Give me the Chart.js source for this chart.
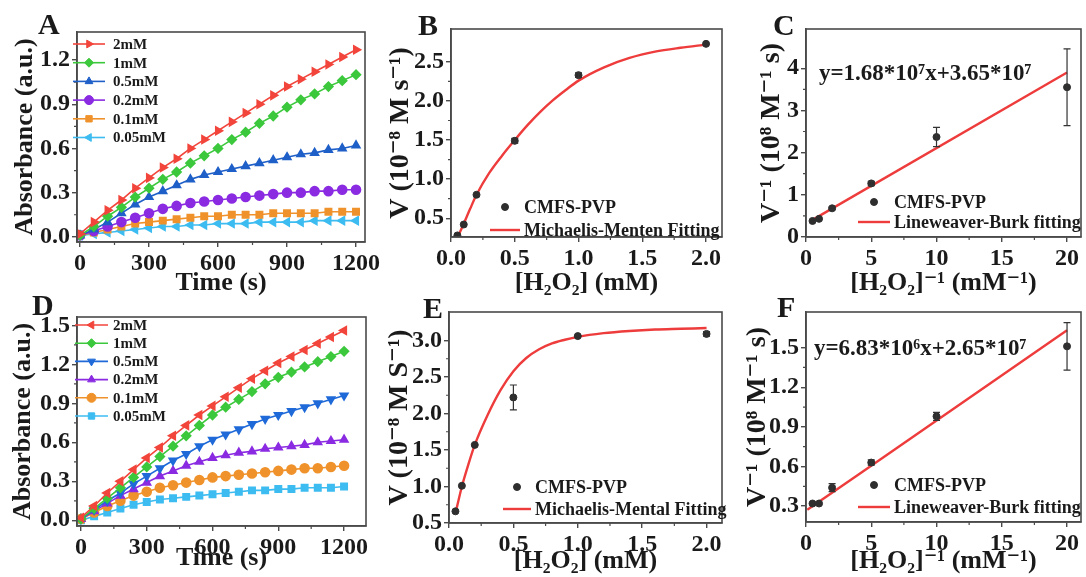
<!DOCTYPE html>
<html>
<head>
<meta charset="utf-8">
<script src="https://cdn.jsdelivr.net/npm/chart.js@4.4.1/dist/chart.umd.min.js"></script>
<style>
  html, body { margin: 0; padding: 0; background: #fff; }
  #wrap { position: relative; width: 1086px; height: 577px; overflow: hidden; }
  #wrap canvas { position: absolute; left: 0; top: 0; }
</style>
</head>
<body>
<div id="wrap">
  <canvas id="pA" width="1086" height="577"></canvas>
  <canvas id="pB" width="1086" height="577"></canvas>
  <canvas id="pC" width="1086" height="577"></canvas>
  <canvas id="pD" width="1086" height="577"></canvas>
  <canvas id="pE" width="1086" height="577"></canvas>
  <canvas id="pF" width="1086" height="577"></canvas>
</div>
<script>
// ---- data ----
const timeS = [0, 60, 120, 180, 240, 300, 360, 420, 480, 540, 600, 660, 720, 780, 840, 900, 960, 1020, 1080, 1140, 1200];
const concLabels = ['2mM', '1mM', '0.5mM', '0.2mM', '0.1mM', '0.05mM'];

// absorbance, first material (A)
const a2mM   = [0.02, 0.10, 0.18, 0.25, 0.33, 0.40, 0.47, 0.53, 0.60, 0.66, 0.72, 0.78, 0.84, 0.90, 0.96, 1.02, 1.07, 1.12, 1.17, 1.22, 1.27];
const a1mM   = [0.01, 0.07, 0.14, 0.20, 0.27, 0.33, 0.39, 0.44, 0.50, 0.55, 0.60, 0.66, 0.71, 0.77, 0.82, 0.88, 0.93, 0.97, 1.02, 1.06, 1.10];
const a05mM  = [0.01, 0.05, 0.10, 0.16, 0.22, 0.27, 0.31, 0.35, 0.39, 0.42, 0.44, 0.46, 0.48, 0.50, 0.52, 0.54, 0.56, 0.57, 0.59, 0.60, 0.62];
const a02mM  = [0.01, 0.04, 0.07, 0.10, 0.13, 0.16, 0.19, 0.21, 0.23, 0.24, 0.25, 0.26, 0.27, 0.28, 0.29, 0.30, 0.30, 0.31, 0.31, 0.32, 0.32];
const a01mM  = [0.01, 0.03, 0.05, 0.07, 0.09, 0.10, 0.11, 0.12, 0.13, 0.14, 0.14, 0.15, 0.15, 0.15, 0.16, 0.16, 0.16, 0.16, 0.17, 0.17, 0.17];
const a005mM = [0.01, 0.02, 0.03, 0.04, 0.05, 0.06, 0.07, 0.07, 0.08, 0.08, 0.09, 0.09, 0.09, 0.10, 0.10, 0.10, 0.10, 0.11, 0.11, 0.11, 0.11];

// absorbance, second material (D)
const d2mM   = [0.02, 0.11, 0.21, 0.30, 0.39, 0.48, 0.56, 0.65, 0.73, 0.81, 0.88, 0.95, 1.02, 1.09, 1.15, 1.21, 1.26, 1.31, 1.36, 1.41, 1.46];
const d1mM   = [0.01, 0.09, 0.17, 0.25, 0.33, 0.41, 0.49, 0.57, 0.65, 0.73, 0.81, 0.87, 0.93, 0.99, 1.05, 1.10, 1.14, 1.18, 1.22, 1.26, 1.30];
const d05mM  = [0.01, 0.08, 0.15, 0.21, 0.28, 0.34, 0.40, 0.46, 0.51, 0.57, 0.62, 0.66, 0.70, 0.74, 0.78, 0.81, 0.84, 0.87, 0.90, 0.93, 0.96];
const d02mM  = [0.01, 0.07, 0.13, 0.19, 0.24, 0.29, 0.34, 0.38, 0.42, 0.45, 0.48, 0.50, 0.52, 0.53, 0.55, 0.56, 0.57, 0.58, 0.60, 0.61, 0.62];
const d01mM  = [0.01, 0.06, 0.11, 0.15, 0.19, 0.22, 0.25, 0.27, 0.29, 0.31, 0.33, 0.34, 0.35, 0.36, 0.37, 0.38, 0.39, 0.40, 0.40, 0.41, 0.42];
const d005mM = [0.00, 0.03, 0.06, 0.09, 0.12, 0.14, 0.16, 0.17, 0.18, 0.19, 0.20, 0.21, 0.22, 0.23, 0.23, 0.24, 0.24, 0.25, 0.25, 0.25, 0.26];

// Michaelis-Menten (B)
const concB = [0.05, 0.1, 0.2, 0.5, 1.0, 2.0];
const rateB = [0.28, 0.42, 0.80, 1.49, 2.33, 2.73];
const rateErrB = [0, 0, 0, 0.03, 0.03, 0];
const fitConcB = [0.05, 0.1, 0.15, 0.2, 0.3, 0.4, 0.5, 0.6, 0.7, 0.8, 0.9, 1.0, 1.2, 1.4, 1.6, 1.8, 2.0];
const fitRateB = [0.25, 0.43, 0.62, 0.80, 1.08, 1.30, 1.50, 1.69, 1.86, 2.01, 2.14, 2.26, 2.43, 2.55, 2.63, 2.68, 2.72];

// Lineweaver-Burk (C)
const invConcC = [0.5, 1, 2, 5, 10, 20];
const invRateC = [0.38, 0.43, 0.68, 1.27, 2.37, 3.55];
const invRateErrC = [0, 0, 0.03, 0.05, 0.23, 0.91];
const fitXC = [0.3, 20];
const fitYC = [0.37, 3.90];

// Michaelis-Menten (E)
const concE = [0.05, 0.1, 0.2, 0.5, 1.0, 2.0];
const rateE = [0.66, 1.01, 1.57, 2.22, 3.06, 3.09];
const rateErrE = [0, 0, 0, 0.17, 0, 0.03];
const fitConcE = [0.05, 0.1, 0.15, 0.2, 0.3, 0.4, 0.5, 0.6, 0.7, 0.8, 0.9, 1.0, 1.2, 1.4, 1.6, 1.8, 2.0];
const fitRateE = [0.63, 1.00, 1.30, 1.57, 1.98, 2.32, 2.58, 2.76, 2.88, 2.96, 3.01, 3.05, 3.10, 3.13, 3.15, 3.16, 3.17];

// Lineweaver-Burk (F)
const invConcF = [0.5, 1, 2, 5, 10, 20];
const invRateF = [0.32, 0.32, 0.44, 0.63, 0.98, 1.51];
const invRateErrF = [0, 0, 0.03, 0.02, 0.03, 0.18];
const fitXF = [0.1, 20];
const fitYF = [0.272, 1.631];

// tick positions
const timeTicks = [0, 300, 600, 900, 1200];
const absTicksA = [0, 0.3, 0.6, 0.9, 1.2];
const absTicksD = [0, 0.3, 0.6, 0.9, 1.2, 1.5];
const concTicks = [0, 0.5, 1.0, 1.5, 2.0];
const rateTicksB = [0.5, 1.0, 1.5, 2.0, 2.5];
const rateTicksE = [0.5, 1.0, 1.5, 2.0, 2.5, 3.0];
const invConcTicks = [0, 5, 10, 15, 20];
const invRateTicksC = [0, 1, 2, 3, 4];
const invRateTicksF = [0.3, 0.6, 0.9, 1.2, 1.5];

// ---- look ----
const SERIF = "'Liberation Serif', 'Times New Roman', 'DejaVu Serif', serif";
const INK = '#1a1a1a';
const AXIS = '#4a4a4a';
const FIT_RED = '#ee3b3b';
Chart.defaults.font.family = SERIF;
Chart.defaults.font.weight = 'bold';
Chart.defaults.color = INK;
Chart.defaults.animation = false;

const seriesA = [
  {data: a2mM,   color: '#f2453b', style: 'triangle', rot: 90},
  {data: a1mM,   color: '#3cc83c', style: 'rectRot',  rot: 0},
  {data: a05mM,  color: '#1f5fc8', style: 'triangle', rot: 0},
  {data: a02mM,  color: '#8a2be2', style: 'circle',   rot: 0},
  {data: a01mM,  color: '#f0922b', style: 'rect',     rot: 0},
  {data: a005mM, color: '#3cbcf0', style: 'triangle', rot: 270}
];
const seriesD = [
  {data: d2mM,   color: '#f2453b', style: 'triangle', rot: 270},
  {data: d1mM,   color: '#3cc83c', style: 'rectRot',  rot: 0},
  {data: d05mM,  color: '#1f6ad8', style: 'triangle', rot: 180},
  {data: d02mM,  color: '#8a2be2', style: 'triangle', rot: 0},
  {data: d01mM,  color: '#f0922b', style: 'circle',   rot: 0},
  {data: d005mM, color: '#3cbcf0', style: 'rect',     rot: 0}
];

function xy(xs, ys) {
  return xs.map((x, i) => ({x: x, y: ys[i]}));
}

// box around the plot area, plus short minor ticks halfway between the major ones
const frame = {
  id: 'frame',
  afterDraw(chart) {
    const a = chart.chartArea, ctx = chart.ctx;
    ctx.save();
    ctx.strokeStyle = AXIS;
    ctx.lineWidth = 1.6;
    ctx.strokeRect(a.left, a.top, a.right - a.left, a.bottom - a.top);
    ctx.lineWidth = 1.2;
    ctx.beginPath();
    const xs = chart.scales.x, ys = chart.scales.y;
    const xt = xs.ticks.map(t => t.value), yt = ys.ticks.map(t => t.value);
    for (let i = 0; i < xt.length - 1; i++) {
      const px = xs.getPixelForValue((xt[i] + xt[i + 1]) / 2);
      ctx.moveTo(px, a.bottom); ctx.lineTo(px, a.bottom + 3);
    }
    for (let i = 0; i < yt.length - 1; i++) {
      const py = ys.getPixelForValue((yt[i] + yt[i + 1]) / 2);
      ctx.moveTo(a.left, py); ctx.lineTo(a.left - 3, py);
    }
    ctx.stroke();
    ctx.restore();
  }
};

// vertical error bars from dataset.yErr
const errorBars = {
  id: 'errorBars',
  afterDatasetsDraw(chart) {
    const ctx = chart.ctx;
    const xs = chart.scales.x, ys = chart.scales.y;
    ctx.save();
    ctx.strokeStyle = '#333';
    ctx.lineWidth = 1.2;
    chart.data.datasets.forEach(ds => {
      if (!ds.yErr) return;
      ds.data.forEach((p, i) => {
        const e = ds.yErr[i];
        if (!e) return;
        const px = xs.getPixelForValue(p.x);
        const top = ys.getPixelForValue(p.y + e);
        const bot = ys.getPixelForValue(p.y - e);
        ctx.beginPath();
        ctx.moveTo(px, top); ctx.lineTo(px, bot);
        ctx.moveTo(px - 3.5, top); ctx.lineTo(px + 3.5, top);
        ctx.moveTo(px - 3.5, bot); ctx.lineTo(px + 3.5, bot);
        ctx.stroke();
      });
    });
    ctx.restore();
  }
};

// legend drawn inside the plot area
const innerLegend = {
  id: 'innerLegend',
  afterDraw(chart, args, opts) {
    if (opts.x === undefined) return;
    const ctx = chart.ctx;
    ctx.save();
    ctx.font = opts.font;
    ctx.textBaseline = 'middle';
    let row = 0;
    chart.data.datasets.forEach(ds => {
      if (!ds.label) return;
      const y = opts.y + row * opts.gap;
      const x0 = opts.x, x1 = opts.x + opts.lineLen;
      if (ds.showLine) {
        ctx.strokeStyle = ds.borderColor;
        ctx.lineWidth = ds.borderWidth;
        ctx.beginPath(); ctx.moveTo(x0, y); ctx.lineTo(x1, y); ctx.stroke();
      }
      if (ds.pointRadius > 0) {
        ctx.fillStyle = ds.pointBackgroundColor;
        ctx.strokeStyle = ds.pointBorderColor;
        ctx.lineWidth = 1;
        Chart.helpers.drawPoint(ctx, {
          pointStyle: ds.pointStyle, rotation: ds.pointRotation || 0,
          radius: ds.pointRadius, borderWidth: 1
        }, (x0 + x1) / 2, y);
      }
      ctx.fillStyle = INK;
      ctx.fillText(ds.label, x1 + opts.textGap, y + 1);
      row++;
    });
    ctx.restore();
  }
};

// panel letters and equations
const notes = {
  id: 'notes',
  afterDraw(chart, args, opts) {
    if (!opts.items) return;
    const ctx = chart.ctx;
    ctx.save();
    ctx.fillStyle = INK;
    ctx.textBaseline = 'alphabetic';
    opts.items.forEach(n => {
      ctx.font = n.font;
      ctx.fillText(n.text, n.x, n.y);
    });
    ctx.restore();
  }
};

function axis(o) {
  return {
    type: 'linear',
    min: o.min, max: o.max,
    afterBuildTicks(scale) {
      scale.ticks = o.ticks.map(v => ({value: v}));
    },
    afterFit(scale) {
      if (o.width !== undefined) scale.width = o.width;
      if (o.height !== undefined) scale.height = o.height;
      scale.paddingLeft = 0; scale.paddingRight = 0;
      scale.paddingTop = 0; scale.paddingBottom = 0;
    },
    border: {display: true, color: AXIS, width: 1.6},
    grid: {display: true, drawOnChartArea: false, drawTicks: true, tickLength: 5, color: AXIS, lineWidth: 1.4},
    ticks: {
      padding: 2,
      font: {size: 24, weight: 'bold'}, color: INK,
      maxRotation: 0, autoSkip: false,
      callback: v => v.toFixed(o.digits)
    },
    title: {display: true, text: o.title, font: {size: o.titleSize || 26, weight: 'bold'}, color: INK, padding: 0}
  };
}

// place the plot area: [left, top, right, bottom] in page pixels
function makeChart(id, plot, yTitleX, xTitleY, xOpts, yOpts, datasets, plugOpts) {
  const W = 1086, H = 577;
  const padLeft = Math.round(yTitleX - (yOpts.titleSize || 26) * 0.6);
  const xBottom = Math.round(xTitleY + (xOpts.titleSize || 26) * 0.6);
  xOpts.height = xBottom - plot[3];
  yOpts.width = plot[0] - padLeft;
  return new Chart(document.getElementById(id), {
    type: 'scatter',
    data: {datasets: datasets},
    options: {
      responsive: false,
      devicePixelRatio: 1,
      events: [],
      layout: {padding: {left: padLeft, top: plot[1], right: W - plot[2], bottom: Math.max(0, H - xBottom)}},
      scales: {x: axis(xOpts), y: axis(yOpts)},
      plugins: Object.assign({legend: {display: false}, tooltip: {enabled: false}}, plugOpts)
    },
    plugins: [frame, errorBars, innerLegend, notes]
  });
}

function kineticSets(series) {
  return series.map((s, i) => ({
    label: concLabels[i],
    data: xy(timeS, s.data),
    showLine: true,
    borderColor: s.color,
    borderWidth: 1.6,
    pointStyle: s.style,
    pointRotation: s.rot,
    pointRadius: 4.5,
    pointBackgroundColor: s.color,
    pointBorderColor: s.color
  }));
}

function pointSet(xs, ys, errs) {
  return {
    label: 'CMFS-PVP',
    data: xy(xs, ys),
    yErr: errs,
    showLine: false,
    pointStyle: 'circle',
    pointRadius: 3.5,
    pointBackgroundColor: '#2e2e2e',
    pointBorderColor: '#2e2e2e'
  };
}

function fitSet(label, xs, ys) {
  return {
    label: label,
    data: xy(xs, ys),
    showLine: true,
    borderColor: FIT_RED,
    borderWidth: 2.4,
    cubicInterpolationMode: 'monotone',
    pointRadius: 0,
    pointBackgroundColor: FIT_RED,
    pointBorderColor: FIT_RED
  };
}

const letterFont = 'bold 30px ' + SERIF;
const legendFont = 'bold 18px ' + SERIF;
const kinLegendFont = 'bold 15px ' + SERIF;
const eqFont = 'bold 23px ' + SERIF;

// A: absorbance vs time
makeChart('pA', [77, 32, 365, 242], 26, 283,
  {min: -13, max: 1239, ticks: timeTicks, digits: 0, title: 'Time (s)'},
  {min: -0.035, max: 1.39, ticks: absTicksA, digits: 1, title: 'Absorbance (a.u.)'},
  kineticSets(seriesA),
  {innerLegend: {x: 73, y: 44, gap: 18.7, lineLen: 32, textGap: 8, font: kinLegendFont},
   notes: {items: [{text: 'A', x: 38, y: 34, font: letterFont}]}});

// B: Michaelis-Menten
makeChart('pB', [451, 29, 722, 237], 401, 283,
  {min: 0, max: 2.125, ticks: concTicks, digits: 1, title: '[H\u2082O\u2082] (mM)'},
  {min: 0.26, max: 2.92, ticks: rateTicksB, digits: 1, titleSize: 28, title: 'V (10\u207B\u2078 M s\u207B\u00B9)'},
  [pointSet(concB, rateB, rateErrB), fitSet('Michaelis-Menten Fitting', fitConcB, fitRateB)],
  {innerLegend: {x: 490, y: 207, gap: 23, lineLen: 30, textGap: 4, font: legendFont},
   notes: {items: [{text: 'B', x: 418, y: 35, font: letterFont}]}});

// C: Lineweaver-Burk
makeChart('pC', [806, 29, 1082, 237], 772, 283,
  {min: 0, max: 21.07, ticks: invConcTicks, digits: 0, title: '[H\u2082O\u2082]\u207B\u00B9 (mM\u207B\u00B9)'},
  {min: 0, max: 4.93, ticks: invRateTicksC, digits: 0, titleSize: 28, title: 'V\u207B\u00B9 (10\u2078 M\u207B\u00B9 s)'},
  [pointSet(invConcC, invRateC, invRateErrC), fitSet('Lineweaver-Burk fitting', fitXC, fitYC)],
  {innerLegend: {x: 858, y: 202, gap: 20, lineLen: 32, textGap: 4, font: legendFont},
   notes: {items: [{text: 'C', x: 773, y: 35, font: letterFont},
                   {text: 'y=1.68*10\u2077x+3.65*10\u2077', x: 819, y: 80, font: eqFont}]}});

// D: absorbance vs time
makeChart('pD', [77, 317, 366, 526], 24, 558,
  {min: -18, max: 1300, ticks: timeTicks, digits: 0, title: 'Time (s)'},
  {min: -0.044, max: 1.564, ticks: absTicksD, digits: 1, title: 'Absorbance (a.u.)'},
  kineticSets(seriesD),
  {innerLegend: {x: 75, y: 325, gap: 18.2, lineLen: 33, textGap: 5, font: kinLegendFont},
   notes: {items: [{text: 'D', x: 32, y: 315, font: letterFont}]}});

// E: Michaelis-Menten
makeChart('pE', [449, 312, 722, 523], 400, 561,
  {min: 0, max: 2.12, ticks: concTicks, digits: 1, title: '[H\u2082O\u2082] (mM)'},
  {min: 0.5, max: 3.39, ticks: rateTicksE, digits: 1, titleSize: 28, title: 'V (10\u207B\u2078 M S\u207B\u00B9)'},
  [pointSet(concE, rateE, rateErrE), fitSet('Michaelis-Mental Fitting', fitConcE, fitRateE)],
  {innerLegend: {x: 503, y: 487, gap: 22, lineLen: 28, textGap: 4, font: legendFont},
   notes: {items: [{text: 'E', x: 423, y: 318, font: letterFont}]}});

// F: Lineweaver-Burk
makeChart('pF', [806, 312, 1082, 522], 758, 561,
  {min: 0, max: 21.07, ticks: invConcTicks, digits: 0, title: '[H\u2082O\u2082]\u207B\u00B9 (mM\u207B\u00B9)'},
  {min: 0.18, max: 1.77, ticks: invRateTicksF, digits: 1, titleSize: 28, title: 'V\u207B\u00B9 (10\u2078 M\u207B\u00B9 s)'},
  [pointSet(invConcF, invRateF, invRateErrF), fitSet('Lineweaver-Burk fitting', fitXF, fitYF)],
  {innerLegend: {x: 858, y: 485, gap: 22, lineLen: 32, textGap: 4, font: legendFont},
   notes: {items: [{text: 'F', x: 777, y: 317, font: letterFont},
                   {text: 'y=6.83*10\u2076x+2.65*10\u2077', x: 814, y: 355, font: eqFont}]}});
</script>
</body>
</html>
